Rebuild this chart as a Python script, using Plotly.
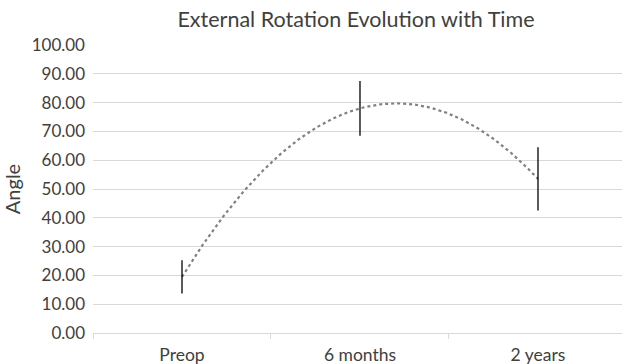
import numpy as np
import plotly.graph_objects as go

categories = ["Preop", "6 months", "2 years"]
mean_angle = [19.5, 78.0, 53.5]
sd_angle = [5.8, 9.5, 11.0]
y_ticks = [0, 10, 20, 30, 40, 50, 60, 70, 80, 90, 100]

xpos = np.arange(len(categories))
coef = np.polyfit(xpos, mean_angle, 2)
xs = np.linspace(xpos[0], xpos[-1], 200)
ys = np.polyval(coef, xs)

FONT = "Lato"
TXT = "#404040"
GRID = "#d9d9d9"

fig = go.Figure()
fig.add_trace(go.Scatter(
    x=xs, y=ys, mode="lines",
    line=dict(color="#808080", width=2.2, dash="dot"),
    hoverinfo="skip", showlegend=False,
))
fig.add_trace(go.Scatter(
    x=xpos, y=mean_angle, mode="markers",
    marker=dict(size=1, color="rgba(0,0,0,0)"),
    error_y=dict(type="data", array=sd_angle, visible=True,
                 color="black", thickness=1.3, width=0),
    showlegend=False,
))
# invisible trace to activate boundary-tick axis
fig.add_trace(go.Scatter(x=[0], y=[0], xaxis="x2", mode="markers",
                         marker=dict(size=1, color="rgba(0,0,0,0)"),
                         showlegend=False, hoverinfo="skip"))

xr = [-0.5, 2.472]
fig.update_layout(
    width=622, height=364,
    margin=dict(l=93, r=0, t=45, b=31, autoexpand=False),
    paper_bgcolor="white", plot_bgcolor="white",
    font=dict(family=FONT, color=TXT, size=17),
    title=dict(text="External Rotation Evolution with Time",
               x=356/622, xanchor="center", xref="container",
               y=1 - 19/364, yanchor="middle", yref="container",
               automargin=False,
               font=dict(family=FONT, size=21.5, color=TXT)),
    xaxis=dict(range=xr, tickmode="array", tickvals=list(xpos),
               ticktext=categories, ticks="", showgrid=False,
               zeroline=False, showline=True, linecolor=GRID, linewidth=1,
               automargin=False, ticklabelstandoff=6,
               tickfont=dict(size=17.5, color=TXT)),
    xaxis2=dict(range=xr, overlaying="x", side="bottom",
                tickmode="array", tickvals=[-0.5, 0.5, 1.5, 2.5],
                ticks="outside", ticklen=5, tickcolor=GRID, tickwidth=1,
                showticklabels=False, showgrid=False, zeroline=False,
                showline=False, automargin=False),
    yaxis=dict(range=[0, 100], tickmode="array", tickvals=y_ticks,
               ticktext=[f"{v:.2f}" for v in y_ticks],
               showgrid=True, gridcolor=GRID, gridwidth=1,
               zeroline=False, ticks="", ticklabelstandoff=7,
               automargin=False,
               tickfont=dict(size=17, color=TXT),
               title=dict(text="Angle", standoff=6,
                          font=dict(size=20, color=TXT))),
)

fig.write_html("out.html",
               config={"displayModeBar": False},
               post_script="document.body.style.margin='0';"
                           "document.body.style.overflow='hidden';")
